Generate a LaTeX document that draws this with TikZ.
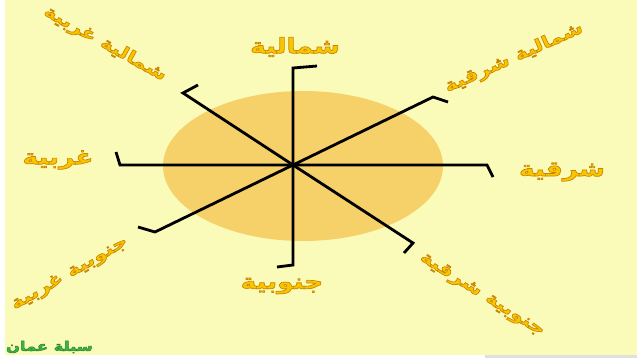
\documentclass[tikz,border=0pt]{standalone}
\usepackage{fontspec}
\newfontfamily\arabicfont[Script=Arabic,FakeStretch=1.25]{DejaVu Sans}
\TeXXeTstate=1
\definecolor{bgyellow}{HTML}{FAFBB9}
\definecolor{disc}{HTML}{F6D068}
\definecolor{goldtxt}{HTML}{F8C600}
\definecolor{greentxt}{HTML}{3FB53F}
\newcommand{\goldline}[1]{\special{pdf:literal 2 Tr 0.7 w 0.80 0.52 0.00 RG}#1\special{pdf:literal 0 Tr}}
\newcommand{\greenline}[1]{\special{pdf:literal 2 Tr 0.5 w 0.15 0.50 0.15 RG}#1\special{pdf:literal 0 Tr}}
\tikzset{
  spoke/.style={draw=black, line width=2.8pt, line join=miter, line cap=butt},
  dirlabel/.style={text=goldtxt, font=\arabicfont\bfseries\fontsize{21}{23}\selectfont, inner sep=0pt},
  diaglabel/.style={dirlabel, font=\arabicfont\bfseries\fontsize{17}{19}\selectfont},
  credit/.style={text=greentxt, font=\arabicfont\bfseries\fontsize{13}{15}\selectfont, inner sep=0pt, anchor=east}
}
\begin{document}
\begin{tikzpicture}[x=1pt,y=-1pt]
\useasboundingbox (0,0) rectangle (637,358);
% background
\fill[white] (0,0) rectangle (637,358);
\fill[bgyellow] (5,0) rectangle (637,355);
\fill[black!12] (485,355) rectangle (637,358);
% disc
\fill[disc] (303,166) ellipse [x radius=140, y radius=75];
% centre and spoke ends
\coordinate (C) at (293,165);
\coordinate (N) at (293,68);   \coordinate (Nt) at (317,66);
\coordinate (S) at (293,265);  \coordinate (St) at (277,267);
\coordinate (W) at (120,165);  \coordinate (Wt) at (116,152);
\coordinate (E) at (487,165);  \coordinate (Et) at (493,177);
\coordinate (NW) at (183,93);  \coordinate (NWt) at (198,85);
\coordinate (SE) at (413,243); \coordinate (SEt) at (404,253);
\coordinate (NE) at (433,97);  \coordinate (NEt) at (448,102);
\coordinate (SW) at (155,232); \coordinate (SWt) at (138,227);
\foreach \d in {N,S,W,E,NW,SE,NE,SW}{
  \draw[spoke] (\d t) -- (\d) -- (C);
}
% labels
\node[dirlabel] (lN) at (295,47) {\goldline{\beginR شمالية\endR}};
\node[dirlabel] (lS) at (282,286) {\goldline{\beginR جنوبية\endR}};
\node[dirlabel] (lE) at (562,172) {\goldline{\beginR شرقية\endR}};
\node[dirlabel] (lW) at (58,160) {\goldline{\beginR غربية\endR}};
\node[diaglabel, rotate=24] (lNE) at (514,58) {\goldline{\beginR شمالية شرقية\endR}};
\node[diaglabel, rotate=-29] (lNW) at (105,44) {\goldline{\beginR شمالية غربية\endR}};
\node[diaglabel, rotate=-32] (lSE) at (482,295) {\goldline{\beginR جنوبية شرقية\endR}};
\node[diaglabel, rotate=30] (lSW) at (70,274) {\goldline{\beginR جنوبية غربية\endR}};
% credit
\node[credit] (cr) at (93,347) {\greenline{\beginR سبلة عمان\endR}};
\end{tikzpicture}
\end{document}
